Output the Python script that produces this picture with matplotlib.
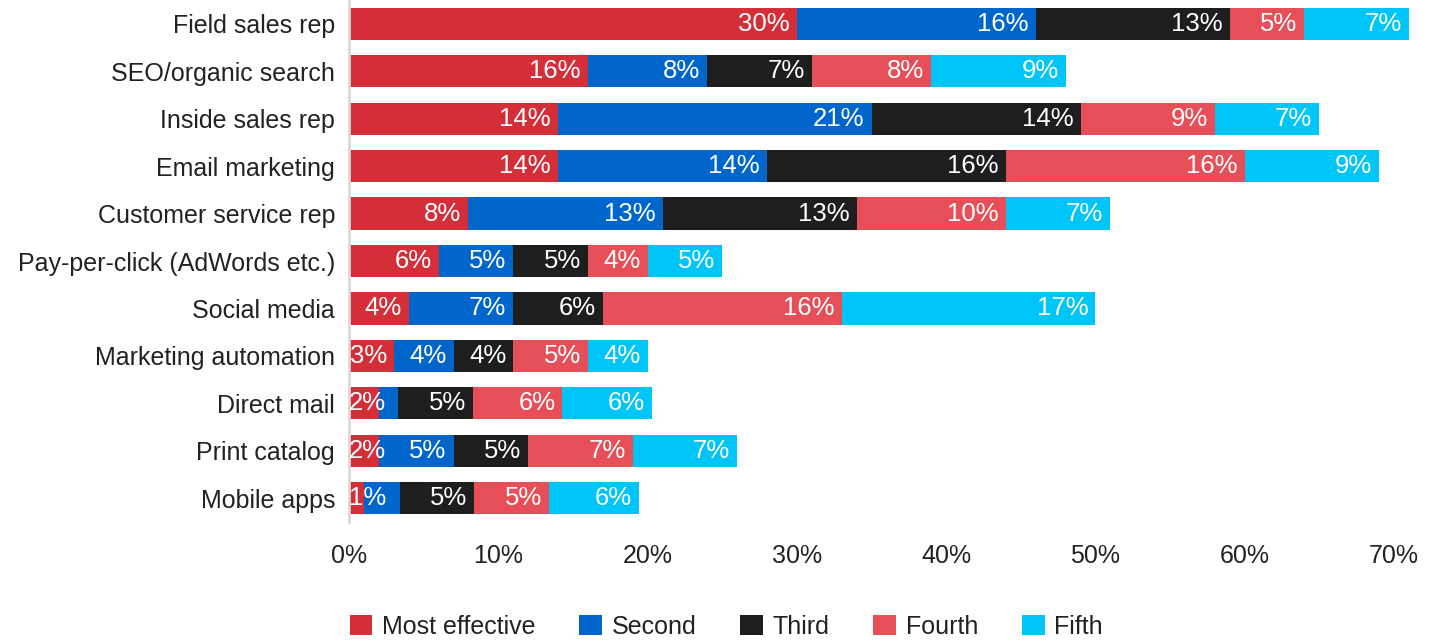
import matplotlib
matplotlib.use("Agg")
import matplotlib.pyplot as plt
from matplotlib.patches import Patch
import numpy as np

plt.rcParams['font.family'] = ['Liberation Sans', 'DejaVu Sans']

channels = ['Field sales rep', 'SEO/organic search', 'Inside sales rep', 'Email marketing',
            'Customer service rep', 'Pay-per-click (AdWords etc.)', 'Social media',
            'Marketing automation', 'Direct mail', 'Print catalog', 'Mobile apps']

most_effective = [30, 16, 14, 14, 8, 6, 4, 3, 2, 2, 1]
second = [16, 8, 21, 14, 13, 5, 7, 4, 1.3, 5, 2.4]
third = [13, 7, 14, 16, 13, 5, 6, 4, 5, 5, 5]
fourth = [5, 8, 9, 16, 10, 4, 16, 5, 6, 7, 5]
fifth = [7, 9, 7, 9, 7, 5, 17, 4, 6, 7, 6]

# segments with no printed value (too narrow)
unlabeled = {('Second', 8), ('Second', 10)}

series = [('Most effective', most_effective, '#D42E39'),
          ('Second', second, '#0066CC'),
          ('Third', third, '#1E1E1E'),
          ('Fourth', fourth, '#E64F58'),
          ('Fifth', fifth, '#00C5F8')]

fig = plt.figure(figsize=(14.39, 6.41), dpi=100)
ax = fig.add_axes([349 / 1439, 1 - 522 / 641, 1045 / 1439, 522 / 641])

y = np.arange(len(channels))
left = np.zeros(len(channels))
for name, vals, color in series:
    vals = np.array(vals, dtype=float)
    bars = ax.barh(y, vals, left=left, height=0.68, color=color, linewidth=0)
    for b in bars:
        b.set_clip_on(False)
    for i, v in enumerate(vals):
        if (name, i) in unlabeled:
            continue
        label = f'{v:.0f}%'
        if v < 2.5:
            ax.annotate(label, (left[i], y[i]), xytext=(0, 0), textcoords='offset pixels',
                        ha='left', va='center', color='white', fontsize=18.5,
                        annotation_clip=False)
        else:
            ax.annotate(label, (left[i] + v, y[i]), xytext=(-7, 0), textcoords='offset pixels',
                        ha='right', va='center', color='white', fontsize=18.5,
                        annotation_clip=False)
    left += vals

ax.set_xlim(0, 70)
ax.set_ylim(len(channels) - 0.5, -0.5)
ax.set_yticks(y)
ax.set_yticklabels(channels, fontsize=18, color='#222222')
ax.set_xticks(np.arange(0, 71, 10))
ax.set_xticklabels([f'{t}%' for t in range(0, 71, 10)], fontsize=18, color='#222222')
ax.tick_params(axis='y', length=0, pad=10)
ax.tick_params(axis='x', length=0, pad=16)
for s in ['top', 'right', 'bottom']:
    ax.spines[s].set_visible(False)
ax.spines['left'].set_color('#D9D9D9')
ax.spines['left'].set_linewidth(2)

handles = [Patch(facecolor=c, edgecolor='none', label=n) for n, _, c in series]
fig.legend(handles=handles, loc='upper left', bbox_to_anchor=(327 / 1439, 1 - 592 / 641),
           ncol=5, frameon=False, fontsize=18, handlelength=0.9, handleheight=0.9,
           handletextpad=0.4, columnspacing=1.75, labelcolor='#222222')

fig.savefig('out.png', dpi=100)
